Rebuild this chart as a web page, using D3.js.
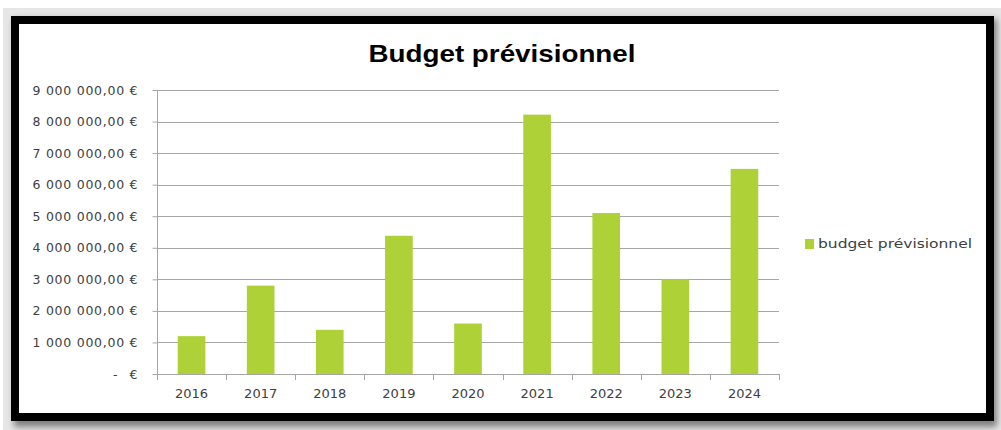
<!DOCTYPE html>
<html><head><meta charset="utf-8">
<script src="https://cdn.jsdelivr.net/npm/d3@7"></script>
<style>body{margin:0;background:#fff}svg{display:block}</style>
</head><body>
<script>
const years = ["2016","2017","2018","2019","2020","2021","2022","2023","2024"];
const budget = [1200000, 2800000, 1400000, 4380000, 1600000, 8220000, 5100000, 3000000, 6500000];
const yTicks = [0,1000000,2000000,3000000,4000000,5000000,6000000,7000000,8000000,9000000];
const title = "Budget prévisionnel";
const seriesName = "budget prévisionnel";

const W=1001,H=430;
const svg=d3.select("body").append("svg").attr("width",W).attr("height",H);
const defs=svg.append("defs");
const f=defs.append("filter").attr("id","sh").attr("x","-5%").attr("y","-5%").attr("width","110%").attr("height","115%");
f.append("feGaussianBlur").attr("stdDeviation",3);

svg.append("rect").attr("x",3).attr("y",8).attr("width",W-3).attr("height",H-8).attr("fill","#e6e6e6");
// shadow
svg.append("rect").attr("x",14).attr("y",19).attr("width",983).attr("height",408).attr("fill","#555").attr("opacity",0.7).attr("filter","url(#sh)");
// frame
svg.append("rect").attr("x",15).attr("y",20).attr("width",975).attr("height",397).attr("fill","#fff").attr("stroke","#000").attr("stroke-width",8);

const font="'Liberation Sans', Arial, sans-serif";
const afont="'DejaVu Sans', sans-serif";
const x=d3.scaleBand().domain(years).range([157,779]).paddingInner(0.6).paddingOuter(0.3);
const xb=d3.scaleBand().domain(years).range([157,779]);
const y=d3.scaleLinear().domain([0,9000000]).range([374,90]);

const fmt=v=> v===0 ? "-\u00a0\u00a0\u00a0€" : d3.format(",.2f")(v).replace(/,/g," ").replace(".",",")+" €";

// gridlines
svg.append("g").selectAll("line").data(yTicks.slice(1)).join("line")
 .attr("x1",157).attr("x2",779).attr("y1",d=>Math.round(y(d))+0.5).attr("y2",d=>Math.round(y(d))+0.5)
 .attr("stroke","#a6a6a6").attr("stroke-width",1);

// bars
svg.append("g").selectAll("rect").data(budget).join("rect")
 .attr("x",(d,i)=>x(years[i])).attr("width",x.bandwidth())
 .attr("y",d=>y(d)).attr("height",d=>y(0)-y(d)).attr("fill","#add136");

// y axis
const ya=svg.append("g").attr("transform","translate(157.5,0)")
 .call(d3.axisLeft(y).tickValues(yTicks).tickSize(5).tickPadding(15).tickFormat(fmt));
ya.select(".domain").attr("stroke","#a6a6a6").attr("d","M0,90V374");
ya.selectAll(".tick line").attr("stroke","#a6a6a6");
ya.selectAll(".tick text").attr("fill","#404040").style("font-family",afont).style("font-size","12.5px")
 .filter(d=>d!==0).attr("textLength",105).attr("lengthAdjust","spacing");

// x axis
const xa=svg.append("g").attr("transform","translate(0,374.5)")
 .call(d3.axisBottom(xb).tickSize(0).tickPadding(14));
xa.select(".domain").attr("stroke","#a6a6a6").attr("d","M157,0H779");
xa.selectAll(".tick text").attr("fill","#404040").style("font-family",afont).style("font-size","13px");
svg.append("g").selectAll("line").data(years.concat(["end"])).join("line")
 .attr("x1",(d,i)=>Math.round(157+i*xb.step())+0.5).attr("x2",(d,i)=>Math.round(157+i*xb.step())+0.5)
 .attr("y1",374).attr("y2",380).attr("stroke","#a6a6a6");

// title
svg.append("text").attr("x",502).attr("y",62).attr("text-anchor","middle")
 .style("font-family",font).style("font-weight","bold").style("font-size","24px").attr("fill","#000")
 .attr("textLength",267).attr("lengthAdjust","spacingAndGlyphs").text(title);

// legend
svg.append("rect").attr("x",805).attr("y",239).attr("width",9).attr("height",10).attr("fill","#add136");
svg.append("text").attr("x",818).attr("y",248).style("font-family",afont).style("font-size","13px")
 .attr("fill","#404040").attr("textLength",154).attr("lengthAdjust","spacingAndGlyphs").text(seriesName);
</script>
</body></html>
